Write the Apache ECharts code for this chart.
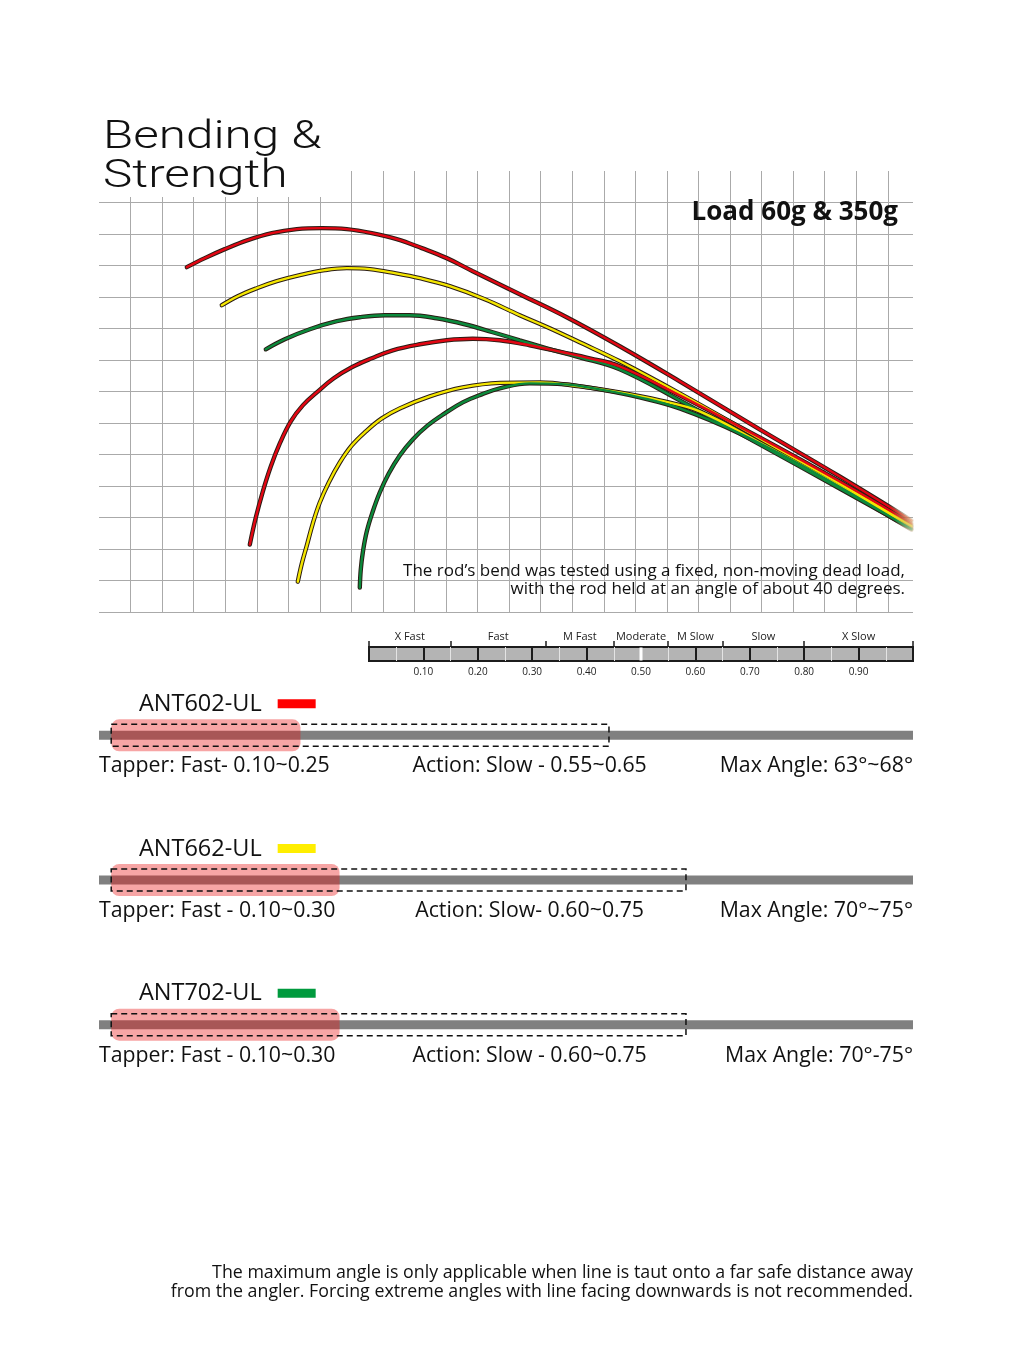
<!DOCTYPE html>
<html>
<head>
<meta charset="utf-8">
<title>Bending &amp; Strength</title>
<script src="https://cdn.jsdelivr.net/npm/echarts@6/dist/echarts.min.js"></script>
<style>
  html, body { margin: 0; padding: 0; background: #fff; }
  #chart { width: 1024px; height: 1365px; }
</style>
</head>
<body>
<div id="chart"></div>
<script>
// bend curves, in grid cells (x from first vertical line, y up from bottom line)
const red60 = [[1.784,10.948],[2.354,11.234],[2.988,11.52],[3.717,11.806],[4.477,12.029],[5.269,12.156],[6.061,12.188],[6.854,12.156],[7.646,12.029],[8.438,11.838],[9.23,11.552],[10.022,11.234],[10.846,10.82],[12.335,10.089],[13.824,9.358],[15.504,8.436],[17.405,7.323],[19.94,5.797],[22.475,4.302],[24.756,2.903]];
const yellow60 = [[2.893,9.739],[3.4,10.025],[4.002,10.28],[4.636,10.502],[5.364,10.693],[6.156,10.852],[6.854,10.916],[7.582,10.884],[8.375,10.757],[9.167,10.598],[10.117,10.343],[11.226,9.93],[12.335,9.421],[13.286,9.008],[14.236,8.563],[15.504,7.959],[17.405,6.941],[19.94,5.51],[22.475,4.079],[24.756,2.744]];
const green60 = [[4.287,8.34],[4.889,8.658],[5.681,8.976],[6.537,9.231],[7.265,9.358],[8.058,9.421],[8.85,9.421],[9.705,9.326],[10.593,9.135],[11.48,8.881],[12.335,8.626],[13.191,8.372],[14.236,8.086],[15.504,7.704],[17.405,6.719],[19.94,5.32],[22.475,3.921],[24.756,2.649]];
const red350 = [[3.78,2.14],[3.97,2.998],[4.192,3.825],[4.445,4.62],[4.731,5.351],[5.079,6.051],[5.459,6.56],[5.903,6.973],[6.442,7.418],[7.012,7.768],[7.646,8.054],[8.311,8.308],[9.167,8.499],[10.022,8.626],[10.846,8.674],[11.702,8.626],[12.652,8.467],[13.698,8.245],[14.553,8.054],[15.504,7.8],[17.405,6.878],[19.94,5.542],[22.475,4.143],[24.756,2.808]];
const yellow350 = [[5.301,0.963],[5.428,1.536],[5.586,2.108],[5.776,2.808],[5.998,3.475],[6.283,4.111],[6.632,4.747],[7.012,5.288],[7.456,5.733],[7.963,6.146],[8.533,6.464],[9.484,6.846],[10.529,7.132],[11.702,7.275],[12.969,7.291],[14.236,7.164],[15.504,6.973],[16.771,6.719],[18.039,6.369],[19.94,5.383],[22.158,4.175],[24.756,2.712]];
const green350 = [[7.266,0.773],[7.297,1.345],[7.361,1.886],[7.487,2.553],[7.677,3.189],[7.899,3.793],[8.184,4.397],[8.533,4.97],[8.945,5.479],[9.42,5.924],[9.959,6.305],[10.529,6.655],[11.131,6.909],[11.702,7.1],[12.652,7.259],[13.761,7.227],[14.87,7.068],[16.138,6.814],[17.405,6.464],[19.306,5.669],[21.841,4.334],[24.756,2.617]];

// action scale
const actionBounds = [0, 0.15, 0.325, 0.45, 0.55, 0.65, 0.8, 1];
const actionNames = ['X Fast', 'Fast', 'M Fast', 'Moderate', 'M Slow', 'Slow', 'X Slow'];
const moderateMark = 0.5;

// rods
const rodNames = ['ANT602-UL', 'ANT662-UL', 'ANT702-UL'];
const rodColors = ['#ff0000', '#ffee00', '#009a3e'];
const taperStart = [0.015, 0.015, 0.015];
const taperEnd = [0.2475, 0.2955, 0.2955];
const actionEnd = [0.6265, 0.7211, 0.7211];
const tapperLabels = ['Tapper: Fast- 0.10~0.25', 'Tapper: Fast - 0.10~0.30', 'Tapper: Fast - 0.10~0.30'];
const actionLabels = ['Action: Slow - 0.55~0.65', 'Action: Slow- 0.60~0.75', 'Action: Slow - 0.60~0.75'];
const angleLabels = ['Max Angle: 63\u00b0~68\u00b0', 'Max Angle: 70\u00b0~75\u00b0', 'Max Angle: 70\u00b0-75\u00b0'];

const FONT = '"Open Sans", "Noto Sans", sans-serif';

const chart = echarts.init(document.getElementById('chart'));

const actionMids = actionNames.map((n, i) => (actionBounds[i] + actionBounds[i + 1]) / 2);

// butt end of the rods fades out
function fade(color, end) {
  return new echarts.graphic.LinearGradient(0, 0, 1, 0, [
    { offset: 0, color: color },
    { offset: 0.965, color: color },
    { offset: 1, color: end }
  ]);
}

function curve(data, color, soft) {
  return [
    {
      type: 'line', xAxisIndex: 0, yAxisIndex: 0, data: data, smooth: 0.4,
      symbol: 'none', silent: true, z: 3,
      lineStyle: { color: fade('#2a1c14', 'rgba(200,170,120,0.25)'), width: 4.4, cap: 'round' }
    },
    {
      type: 'line', xAxisIndex: 0, yAxisIndex: 0, data: data, smooth: 0.4,
      symbol: 'none', silent: true, z: 4,
      lineStyle: { color: fade(color, soft), width: 2.4, cap: 'round' }
    }
  ];
}

function renderRod(params, api) {
  const i = params.dataIndex;
  const row = api.value(1);
  const [x0, y] = api.coord([0, row]);
  const x1 = api.coord([1, row])[0];
  const ts = api.coord([api.value(0), row])[0];
  const te = api.coord([api.value(2), row])[0];
  const ae = api.coord([api.value(3), row])[0];
  const nameX = api.coord([0.049, row])[0];
  const swX = api.coord([0.2195, row])[0];
  const midX = api.coord([0.529, row])[0];
  const textStyle = { fill: '#111', font: '500 21.3px ' + FONT, verticalAlign: 'middle' };
  return {
    type: 'group',
    children: [
      { type: 'rect', shape: { x: x0, y: y - 4.5, width: x1 - x0, height: 9 }, style: { fill: '#808080' } },
      { type: 'rect', shape: { x: ts, y: y - 16, width: te - ts, height: 32, r: 8 }, style: { fill: 'rgba(234,18,18,0.38)' } },
      { type: 'rect', shape: { x: ts, y: y - 11, width: ae - ts, height: 22 }, style: { fill: 'none', stroke: '#111', lineWidth: 1.5, lineDash: [6, 4] } },
      { type: 'text', x: nameX, y: y - 31, style: { text: rodNames[i], fill: '#111', font: '500 23.5px ' + FONT, verticalAlign: 'middle' } },
      { type: 'rect', shape: { x: swX, y: y - 36, width: 38, height: 9 }, style: { fill: rodColors[i] } },
      { type: 'text', x: x0, y: y + 31, style: Object.assign({ text: tapperLabels[i], align: 'left' }, textStyle) },
      { type: 'text', x: midX, y: y + 31, style: Object.assign({ text: actionLabels[i], align: 'center' }, textStyle) },
      { type: 'text', x: x1, y: y + 31, style: Object.assign({ text: angleLabels[i], align: 'right' }, textStyle) }
    ]
  };
}

const option = {
  backgroundColor: '#ffffff',
  animation: false,
  grid: [
    { left: 99, width: 814, top: 171, height: 441 },
    { left: 369, width: 544, top: 647, height: 14, show: true, backgroundColor: '#b4b4b4', borderColor: '#1c1c1c', borderWidth: 2 },
    { left: 99, width: 814, top: 663, height: 434 }
  ],
  xAxis: [
    {
      gridIndex: 0, type: 'value', min: -1, max: 24.8, interval: 1,
      axisLine: { show: false }, axisTick: { show: false }, axisLabel: { show: false },
      splitLine: { show: true, showMinLine: false, showMaxLine: false, lineStyle: { color: '#aaaaaa', width: 1 } }
    },
    {
      gridIndex: 1, type: 'value', min: 0, max: 1, interval: 0.1, position: 'bottom',
      axisLine: { show: false }, axisTick: { show: false },
      axisLabel: {
        show: true, margin: 6, fontSize: 10, color: '#222', fontFamily: FONT,
        showMinLabel: false, showMaxLabel: false,
        formatter: v => v.toFixed(2)
      },
      splitLine: { show: true, lineStyle: { color: '#1c1c1c', width: 2 } },
      minorTick: { show: false, splitNumber: 2 },
      minorSplitLine: { show: true, lineStyle: { color: '#e4e4e4', width: 1 } }
    },
    {
      gridIndex: 1, type: 'value', min: 0, max: 1, position: 'top',
      axisLine: { show: false },
      axisTick: { show: true, customValues: actionBounds, length: 6, lineStyle: { color: '#1c1c1c', width: 1.5 } },
      axisLabel: {
        show: true, customValues: actionMids, margin: 5, fontSize: 11, color: '#222', fontFamily: FONT,
        formatter: v => {
          const k = actionMids.findIndex(m => Math.abs(m - v) < 1e-6);
          return k >= 0 ? actionNames[k] : '';
        }
      },
      splitLine: { show: false }
    },
    { gridIndex: 2, type: 'value', min: 0, max: 1, show: false }
  ],
  yAxis: [
    {
      gridIndex: 0, type: 'value', min: 0, max: 14, interval: 1,
      axisLine: { show: false }, axisTick: { show: false }, axisLabel: { show: false },
      splitLine: { show: true, showMinLine: true, showMaxLine: false, lineStyle: { color: '#aaaaaa', width: 1 } }
    },
    { gridIndex: 1, type: 'value', min: 0, max: 1, show: false },
    { gridIndex: 2, type: 'value', min: -0.5, max: 2.5, inverse: true, show: false }
  ],
  graphic: [
    {
      type: 'text', x: 103, y: 119, z: 10, scaleX: 1.3,
      style: {
        text: 'Bending &\nStrength', fill: '#111', font: '300 38px Roboto, sans-serif',
        lineHeight: 39, backgroundColor: '#fff'
      }
    },
    {
      type: 'text', x: 898, y: 200, z: 10,
      style: { text: 'Load 60g & 350g', fill: '#111', font: '700 26px ' + FONT, align: 'right', verticalAlign: 'top' }
    },
    {
      type: 'text', x: 905, y: 562, z: 10,
      style: {
        text: 'The rod\u2019s bend was tested using a fixed, non-moving dead load,\nwith the rod held at an angle of about 40 degrees.',
        fill: '#111', font: '400 17px ' + FONT, align: 'right', verticalAlign: 'top', lineHeight: 18
      }
    },
    {
      type: 'text', x: 913, y: 1263, z: 10,
      style: {
        text: 'The maximum angle is only applicable when line is taut onto a far safe distance away\nfrom the angler. Forcing extreme angles with line facing downwards is not recommended.',
        fill: '#111', font: '400 17.8px ' + FONT, align: 'right', verticalAlign: 'top', lineHeight: 19
      }
    }
  ],
  series: [
    ...curve(red60, '#e30613', 'rgba(240,150,90,0.4)'),
    ...curve(yellow60, '#f4e600', 'rgba(240,220,120,0.4)'),
    ...curve(green60, '#0b8a3c', 'rgba(150,200,150,0.4)'),
    ...curve(red350, '#e30613', 'rgba(240,150,90,0.4)'),
    ...curve(yellow350, '#f4e600', 'rgba(240,220,120,0.4)'),
    ...curve(green350, '#0b8a3c', 'rgba(150,200,150,0.4)'),
    {
      type: 'line', xAxisIndex: 1, yAxisIndex: 1, symbol: 'none', silent: true,
      data: [[moderateMark, 0.04], [moderateMark, 0.96]],
      lineStyle: { color: '#ffffff', width: 3 }
    },
    {
      type: 'custom', xAxisIndex: 3, yAxisIndex: 2, silent: true,
      encode: { x: [0, 2, 3], y: 1 },
      data: rodNames.map((n, i) => [taperStart[i], i, taperEnd[i], actionEnd[i]]),
      renderItem: renderRod
    }
  ]
};

chart.setOption(option);
window.addEventListener('resize', () => {
  chart.resize();
});
</script>
</body>
</html>
